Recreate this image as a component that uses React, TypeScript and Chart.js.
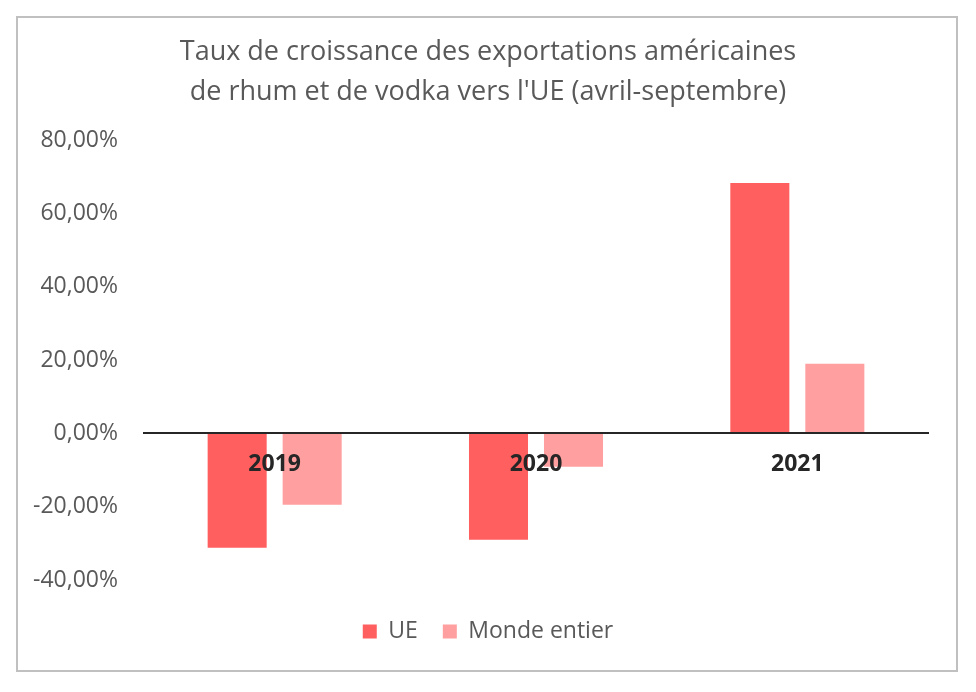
import React, { useEffect, useRef } from "react";
import { Chart, registerables } from "chart.js";

Chart.register(...registerables);

const titleLines = [
  "Taux de croissance des exportations américaines",
  "de rhum et de vodka vers l'UE (avril-septembre)",
];
const categories = ["2019", "2020", "2021"];
const seriesNames = ["UE", "Monde entier"];
const ueValues = [-31.2, -29.0, 68.3];
const mondeValues = [-19.5, -9.1, 19.0];
const yMin = -40;
const yMax = 80;
const yStep = 20;

const FONT = "'Open Sans', 'DejaVu Sans', sans-serif";

export default function App() {
  const canvasRef = useRef<HTMLCanvasElement | null>(null);

  useEffect(() => {
    if (!canvasRef.current) return;
    const chart = new Chart(canvasRef.current, {
      type: "bar",
      data: {
        labels: categories,
        datasets: [
          {
            label: seriesNames[0],
            data: ueValues,
            backgroundColor: "#ff5f5f",
            barPercentage: 0.787,
            categoryPercentage: 0.574,
          },
          {
            label: seriesNames[1],
            data: mondeValues,
            backgroundColor: "#ff9f9f",
            barPercentage: 0.787,
            categoryPercentage: 0.574,
          },
        ],
      },
      options: {
        responsive: false,
        animation: false,
        devicePixelRatio: 1,
        layout: { padding: { left: 20, right: 20, top: 0, bottom: 39 } },
        plugins: {
          tooltip: { enabled: false },
          title: {
            display: true,
            text: titleLines,
            color: "#595959",
            font: { family: FONT, size: 27, weight: "normal", lineHeight: 40 / 27 },
            padding: { top: 32, bottom: 28 },
          },
          legend: {
            display: true,
            position: "bottom",
            labels: {
              boxWidth: 14,
              boxHeight: 14,
              padding: 25,
              color: "#595959",
              font: { family: FONT, size: 23 },
            },
          },
        },
        scales: {
          x: {
            position: { y: 0 } as any,
            grid: { display: false, drawTicks: false },
            border: { display: true, color: "#262626", width: 2, z: 1 },
            ticks: {
              z: 1,
              padding: 17,
              color: "#262626",
              font: { family: FONT, size: 23, weight: "bold" },
            },
          },
          gap: {
            type: "category",
            axis: "x",
            position: "bottom",
            grid: { display: false, drawTicks: false },
            border: { display: false },
            ticks: { display: false },
            afterFit: (s: any) => {
              s.height = 15;
            },
          } as any,
          y: {
            min: yMin,
            max: yMax,
            grid: { display: false, drawTicks: false },
            border: { display: false },
            ticks: {
              stepSize: yStep,
              padding: 26,
              color: "#595959",
              font: { family: FONT, size: 23 },
              callback: (v: any) => Number(v).toFixed(2).replace(".", ",") + "%",
            },
            afterFit: (s: any) => {
              s.width = 124;
            },
          },
          gapR: {
            type: "linear",
            axis: "y",
            position: "right",
            grid: { display: false, drawTicks: false },
            border: { display: false },
            ticks: { display: false },
            afterFit: (s: any) => {
              s.width = 28;
            },
          } as any,
        },
      },
    });
    return () => chart.destroy();
  }, []);

  return (
    <div style={{ position: "fixed", left: 0, top: 0, width: 976, height: 692, background: "#fff" }}>
      <div
        style={{
          position: "absolute",
          left: 16,
          top: 16,
          width: 942,
          height: 656,
          boxSizing: "border-box",
          border: "2px solid #c0c0c0",
        }}
      />
      <canvas
        ref={canvasRef}
        width={976}
        height={692}
        style={{ position: "absolute", left: 0, top: 0, width: 976, height: 692 }}
      />
    </div>
  );
}
